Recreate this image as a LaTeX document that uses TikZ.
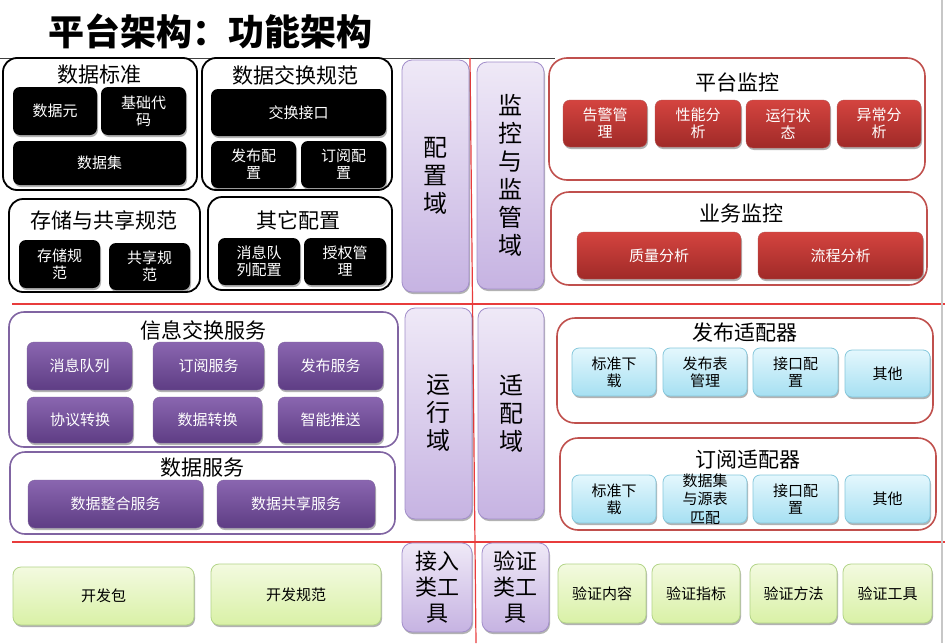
\documentclass[tikz,border=0pt]{standalone}
\usepackage{fontspec}
\setmainfont{Noto Sans CJK SC}
\usetikzlibrary{shadows}
\definecolor{redln}{HTML}{E83C3C}
\definecolor{redbd}{HTML}{C0504D}
\definecolor{purbd}{HTML}{8064A2}
\definecolor{ptop}{HTML}{8A66B0}
\definecolor{pbot}{HTML}{5E3D84}
\definecolor{rtop}{HTML}{D4443F}
\definecolor{rbot}{HTML}{A02A28}
\definecolor{btop}{HTML}{E4F7FD}
\definecolor{bbot}{HTML}{A6E0F2}
\definecolor{bbd}{HTML}{86C8DC}
\definecolor{gtop}{HTML}{F3FAE0}
\definecolor{gbot}{HTML}{D9F1A6}
\definecolor{gbd}{HTML}{B2D487}
\definecolor{dtop}{HTML}{EFE9F7}
\definecolor{dbot}{HTML}{C6B3E2}
\definecolor{dbd}{HTML}{A28ECA}
\newcommand\bx[7]{\node[#2, minimum width={(#5-#3)*1pt}, minimum height={(#6-#4)*1pt}] (#1) at ({(#3+#5)/2},{(#4+#6)/2}) {#7};}
\tikzset{
  base/.style={inner sep=0pt, outer sep=0pt, align=center},
  shd/.style={drop shadow={shadow xshift=1pt, shadow yshift=-2pt, opacity=0.3, fill=black}},
  ttl/.style={inner sep=0pt, font=\fontsize{21}{24}\selectfont},
  blkcont/.style={base, draw=black, line width=1.8pt, rounded corners=14pt, fill=white},
  pcont/.style={base, draw=purbd, line width=1.6pt, rounded corners=15pt, fill=white},
  rcont/.style={base, draw=redbd, line width=1.6pt, rounded corners=18pt, fill=white},
  blk/.style={base, fill=black, rounded corners=7pt, text=white, font=\fontsize{15}{17}\selectfont, shd},
  psvc/.style={base, top color=ptop, bottom color=pbot, draw=pbot!80, line width=0.4pt, rounded corners=7pt, text=white, font=\fontsize{15}{17}\selectfont, shd},
  rbox/.style={base, top color=rtop, bottom color=rbot, draw=rbot!80, line width=0.4pt, rounded corners=7pt, text=white, font=\fontsize{15}{17}\selectfont, shd},
  bbox/.style={base, top color=btop, bottom color=bbot, draw=bbd, line width=0.8pt, rounded corners=7pt, text=black, font=\fontsize{15}{17}\selectfont, shd},
  gbox/.style={base, top color=gtop, bottom color=gbot, draw=gbd, line width=0.8pt, rounded corners=8pt, text=black, font=\fontsize{15}{17}\selectfont, shd},
  dom/.style={base, top color=dtop, bottom color=dbot, draw=dbd, line width=0.8pt, rounded corners=10pt, text=black, font=\fontsize{24}{28}\selectfont, shd},
  domsm/.style={dom, font=\fontsize{22}{26}\selectfont},
}
\begin{document}
\begin{tikzpicture}[x=1pt, y=-1pt]
\useasboundingbox (0,0) rectangle (945,643);
\fill[white] (0,0) rectangle (945,643);
% decorative lines
\coordinate (tl0) at (0,58); \coordinate (tl1) at (555,58);
\coordinate (h1a) at (12,304); \coordinate (h1b) at (945,304);
\coordinate (h2a) at (12,542); \coordinate (h2b) at (945,542);
\coordinate (v1a) at (470,58); \coordinate (v1b) at (476,643);
\coordinate (ga) at (942,0); \coordinate (gb) at (942,643);
\draw[black!75, line width=1pt] (tl0) -- (tl1);
\draw[redln, line width=1.5pt] (h1a) -- (h1b);
\draw[redln, line width=1.5pt] (h2a) -- (h2b);
\draw[redln, line width=1.2pt] (v1a) -- (v1b);
\draw[black!22, line width=2pt] (ga) -- (gb);
% title
\node[inner sep=0pt, font=\fontsize{36}{40}\selectfont\bfseries] (title) at (210,31) {平台架构：功能架构};
% top-left group
\bx{c1}{blkcont}{3}{58}{197}{190}{}
\node[ttl] (t1) at (99,75) {数据标准};
\bx{b11}{blk}{13}{87}{97}{135}{数据元}
\bx{b12}{blk}{101}{87}{186}{135}{基础代\\码}
\bx{b13}{blk}{13}{141}{186}{185}{数据集}
\bx{c2}{blkcont}{202}{58}{392}{190}{}
\node[ttl] (t2) at (295,75) {数据交换规范};
\bx{b21}{blk}{211}{89}{386}{136}{交换接口}
\bx{b22}{blk}{211}{141}{296}{188}{发布配\\置}
\bx{b23}{blk}{301}{141}{386}{188}{订阅配\\置}
\bx{c3}{blkcont}{9}{199}{200}{292}{}
\node[ttl] (t3) at (104,220) {存储与共享规范};
\bx{b31}{blk}{19}{240}{100}{288}{存储规\\范}
\bx{b32}{blk}{109}{243}{190}{290}{共享规\\范}
\bx{c4}{blkcont}{208}{197}{392}{290}{}
\node[ttl] (t4) at (298,220) {其它配置};
\bx{b41}{blk}{218}{238}{300}{285}{消息队\\列配置}
\bx{b42}{blk}{304}{238}{386}{285}{授权管\\理}
% domains
\bx{d1}{dom}{402}{60}{469}{292}{配\\置\\域}
\bx{d2}{dom}{477}{62}{544}{289}{监\\控\\与\\监\\管\\域}
\bx{d3}{dom}{405}{308}{472}{519}{运\\行\\域}
\bx{d4}{dom}{478}{308}{544}{519}{适\\配\\域}
\bx{d5}{domsm}{402}{543}{472}{632}{接入\\类工\\具}
\bx{d6}{domsm}{482}{543}{549}{632}{验证\\类工\\具}
% platform monitoring
\bx{c5}{rcont}{549}{58}{925}{180}{}
\node[ttl] (t5) at (737,82) {平台监控};
\bx{r1}{rbox}{563}{100}{647}{147}{告警管\\理}
\bx{r2}{rbox}{655}{100}{741}{147}{性能分\\析}
\bx{r3}{rbox}{746}{100}{830}{148}{运行状\\态}
\bx{r4}{rbox}{837}{100}{921}{147}{异常分\\析}
\bx{c6}{rcont}{551}{192}{927}{285}{}
\node[ttl] (t6) at (741,213) {业务监控};
\bx{r5}{rbox}{577}{232}{741}{279}{质量分析}
\bx{r6}{rbox}{758}{232}{923}{279}{流程分析}
% information exchange
\bx{c7}{pcont}{9}{312}{398}{447}{}
\node[ttl] (t7) at (203,330) {信息交换服务};
\bx{p1}{psvc}{27}{342}{132}{390}{消息队列}
\bx{p2}{psvc}{153}{342}{264}{390}{订阅服务}
\bx{p3}{psvc}{278}{342}{383}{390}{发布服务}
\bx{p4}{psvc}{27}{397}{133}{443}{协议转换}
\bx{p5}{psvc}{153}{397}{262}{443}{数据转换}
\bx{p6}{psvc}{278}{397}{383}{443}{智能推送}
\bx{c8}{pcont}{10}{452}{395}{534}{}
\node[ttl] (t8) at (202,468) {数据服务};
\bx{p7}{psvc}{28}{480}{203}{528}{数据整合服务}
\bx{p8}{psvc}{217}{480}{375}{528}{数据共享服务}
% adapters
\bx{c9}{rcont}{557}{318}{933}{423}{}
\node[ttl] (t9) at (745,333) {发布适配器};
\bx{u1}{bbox}{572}{348}{656}{396}{标准下\\载}
\bx{u2}{bbox}{663}{348}{747}{396}{发布表\\管理}
\bx{u3}{bbox}{753}{348}{838}{396}{接口配\\置}
\bx{u4}{bbox}{845}{350}{930}{397}{其他}
\bx{c10}{rcont}{560}{438}{936}{530}{}
\node[ttl] (t10) at (748,460) {订阅适配器};
\bx{v1}{bbox}{572}{475}{656}{523}{标准下\\载}
\bx{v2}{bbox}{663}{475}{747}{523}{}
\node[base, font=\fontsize{15}{18.5}\selectfont] (v2t) at (705,499) {数据集\\与源表\\匹配};
\bx{v3}{bbox}{753}{475}{838}{523}{接口配\\置}
\bx{v4}{bbox}{845}{475}{930}{523}{其他}
% tools row
\bx{g1}{gbox}{13}{567}{194}{625}{开发包}
\bx{g2}{gbox}{211}{564}{381}{625}{开发规范}
\bx{g3}{gbox}{558}{564}{646}{623}{验证内容}
\bx{g4}{gbox}{652}{564}{740}{623}{验证指标}
\bx{g5}{gbox}{750}{564}{837}{623}{验证方法}
\bx{g6}{gbox}{843}{564}{932}{623}{验证工具}
\end{tikzpicture}
\end{document}
